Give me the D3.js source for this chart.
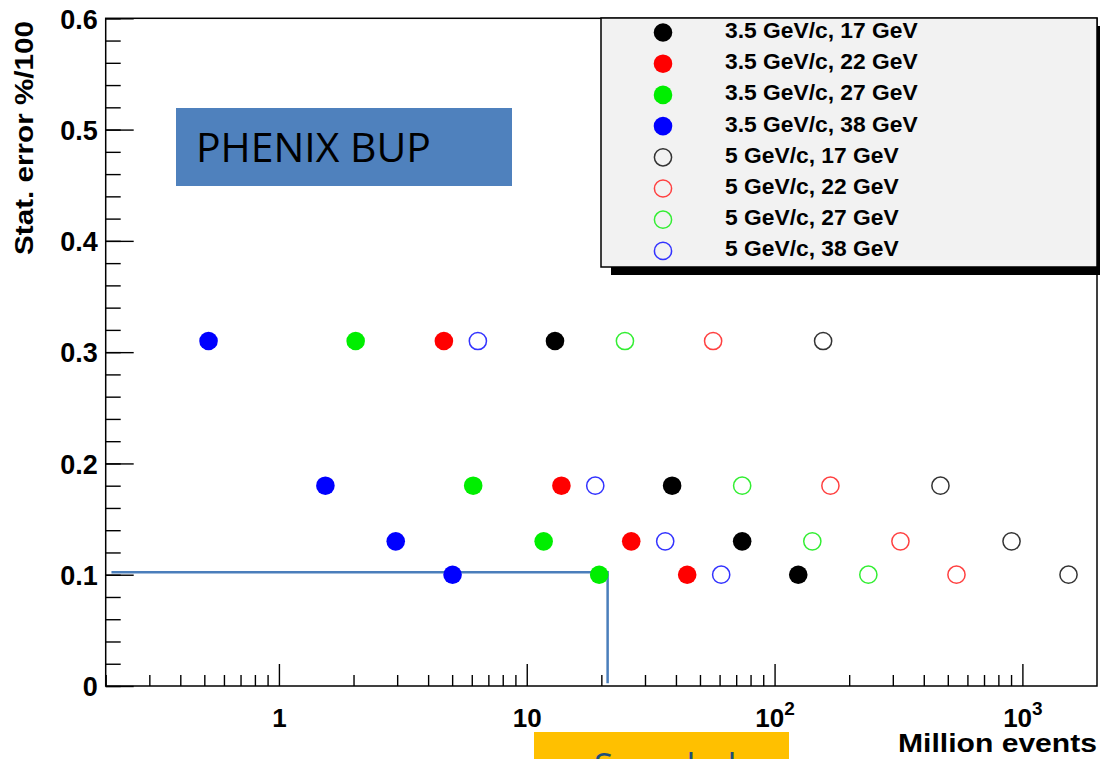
<!DOCTYPE html>
<html lang="en">
<head>
    <meta charset="UTF-8">
    <title>Stat. error vs million events</title>
    <script src="https://d3js.org/d3.v7.min.js"></script>
    <style>
        body { margin: 0; background: #fff; }
        svg { display: block; }
        .root text { font-family: "Liberation Sans", Arial, sans-serif; font-weight: bold; fill: #000; }
        .tick line { stroke: #000; stroke-width: 1.4px; }
        .domain { display: none; }
    </style>
</head>
<body>
    <svg width="1100" height="759"></svg>
    <script>
        // data
        const errLevels = [0.31, 0.18, 0.13, 0.10];
        const pt35_17 = [13.0, 38.6, 74, 124.6];
        const pt35_22 = [4.63, 13.8, 26.4, 44.4];
        const pt35_27 = [2.04, 6.08, 11.7, 19.6];
        const pt35_38 = [0.52, 1.54, 2.96, 5.02];
        const pt5_17 = [157, 467, 904, 1535];
        const pt5_22 = [56.5, 168, 322, 542];
        const pt5_27 = [24.9, 74, 142, 239];
        const pt5_38 = [6.35, 18.9, 36.2, 60.9];
        const seriesNames = [
            '3.5 GeV/c, 17 GeV', '3.5 GeV/c, 22 GeV', '3.5 GeV/c, 27 GeV', '3.5 GeV/c, 38 GeV',
            '5 GeV/c, 17 GeV', '5 GeV/c, 22 GeV', '5 GeV/c, 27 GeV', '5 GeV/c, 38 GeV'
        ];
        const seriesValues = [pt35_17, pt35_22, pt35_27, pt35_38, pt5_17, pt5_22, pt5_27, pt5_38];
        const seriesColors = ['#000000', '#ff0000', '#00ee00', '#0000ff', '#333333', '#ff4040', '#33ee33', '#3333ff'];
        const seriesOpen = [false, false, false, false, true, true, true, true];

        const xMajor = [1, 10, 100, 1000];
        const xMinor = [0.2, 0.3, 0.4, 0.5, 0.6, 0.7, 0.8, 0.9,
            2, 3, 4, 5, 6, 7, 8, 9, 20, 30, 40, 50, 60, 70, 80, 90,
            200, 300, 400, 500, 600, 700, 800, 900];
        const xLabels = [['1', ''], ['10', ''], ['10', '2'], ['10', '3']];
        const yMajor = [0, 0.1, 0.2, 0.3, 0.4, 0.5, 0.6];
        const yMinor = d3.range(0, 0.6001, 0.02);

        // blue guide line (x in million events, y in stat. error)
        const guideX = [0.211, 21.2, 21.2];
        const guideY = [0.1022, 0.1022, 0.0025];

        const padL = 105.7, padR = 1097, padT = 18.3, padB = 686;
        const svg = d3.select('svg').append('g').attr('class', 'root');

        const x = d3.scaleLog().domain([0.2, 2000]).range([padL, padR]);
        const y = d3.scaleLinear().domain([0, 0.6]).range([padB, padT]);

        // frame
        svg.append('rect')
            .attr('x', padL).attr('y', padT)
            .attr('width', padR - padL).attr('height', padB - padT)
            .attr('fill', 'none').attr('stroke', '#000').attr('stroke-width', 1.5);

        // y axis
        svg.append('g').attr('transform', `translate(${padL},0)`)
            .call(d3.axisLeft(y).tickValues(yMinor).tickSize(-15).tickFormat(''));
        const yAx = svg.append('g').attr('transform', `translate(${padL},0)`)
            .call(d3.axisLeft(y).tickValues(yMajor).tickSize(-28).tickPadding(8)
                .tickFormat(d => d === 0 ? '0' : d3.format('.1f')(d)));
        yAx.selectAll('text').attr('font-size', 27).attr('dy', '0.36em');

        // x axis
        svg.append('g').attr('transform', `translate(0,${padB})`)
            .call(d3.axisBottom(x).tickValues(xMinor).tickSize(-11).tickFormat(''));
        const xAx = svg.append('g').attr('transform', `translate(0,${padB})`)
            .call(d3.axisBottom(x).tickValues(xMajor).tickSize(-22).tickFormat(''));
        xAx.selectAll('.tick').each(function (d, i) {
            const t = d3.select(this).append('text')
                .attr('y', 41).attr('font-size', 26).attr('text-anchor', 'middle');
            t.append('tspan').text(xLabels[i][0]);
            if (xLabels[i][1]) {
                t.append('tspan').attr('font-size', 19).attr('dy', -12).text(xLabels[i][1]);
            }
        });

        // axis titles
        svg.append('text')
            .attr('transform', 'translate(33,21) rotate(-90)')
            .attr('text-anchor', 'end').attr('font-size', 26)
            .attr('textLength', 234).attr('lengthAdjust', 'spacingAndGlyphs')
            .text('Stat. error %/100');
        svg.append('text')
            .attr('x', padR).attr('y', 752)
            .attr('text-anchor', 'end').attr('font-size', 26)
            .attr('textLength', 199).attr('lengthAdjust', 'spacingAndGlyphs')
            .text('Million events');

        // blue guide line
        const guide = d3.line().x(d => x(d[0])).y(d => y(d[1]));
        svg.append('path')
            .attr('d', guide(guideX.map((v, i) => [v, guideY[i]])))
            .attr('fill', 'none').attr('stroke', '#4a7ebb').attr('stroke-width', 2.5);

        // points
        seriesValues.forEach((vals, s) => {
            svg.append('g').selectAll('circle')
                .data(vals)
                .join('circle')
                .attr('cx', d => x(d))
                .attr('cy', (d, i) => y(errLevels[i]))
                .attr('r', seriesOpen[s] ? 8.6 : 9.3)
                .attr('fill', seriesOpen[s] ? 'none' : seriesColors[s])
                .attr('stroke', seriesOpen[s] ? seriesColors[s] : 'none')
                .attr('stroke-width', 1.5);
        });

        // legend
        const lg = svg.append('g');
        lg.append('rect').attr('x', 611).attr('y', 26).attr('width', 496).attr('height', 249).attr('fill', '#000');
        lg.append('rect').attr('x', 601).attr('y', 18).attr('width', 496).attr('height', 249)
            .attr('fill', '#f2f2f2').attr('stroke', '#000').attr('stroke-width', 1.5);
        seriesNames.forEach((name, i) => {
            const cy = 32.5 + i * 31.2;
            lg.append('circle')
                .attr('cx', 663).attr('cy', cy)
                .attr('r', seriesOpen[i] ? 8.6 : 9.3)
                .attr('fill', seriesOpen[i] ? 'none' : seriesColors[i])
                .attr('stroke', seriesOpen[i] ? seriesColors[i] : 'none')
                .attr('stroke-width', 1.5);
            lg.append('text')
                .attr('x', 725).attr('y', cy + 5.5)
                .attr('font-size', 22.8).text(name);
        });

        // PHENIX BUP label
        const root = d3.select('svg');
        root.append('rect').attr('x', 176).attr('y', 108).attr('width', 336).attr('height', 78).attr('fill', '#4f81bd');
        root.append('text').attr('x', 196).attr('y', 161.5)
            .attr('font-family', '"Open Sans", sans-serif').attr('font-size', 41)
            .attr('textLength', 235).attr('lengthAdjust', 'spacingAndGlyphs')
            .attr('fill', '#000').text('PHENIX BUP');

        // orange box at the bottom (cut off)
        root.append('rect').attr('x', 534).attr('y', 732).attr('width', 255).attr('height', 40).attr('fill', '#ffc000');
        root.append('text').attr('x', 594).attr('y', 778)
            .attr('font-family', '"Open Sans", sans-serif').attr('font-size', 35)
            .attr('fill', '#1f4e79').text('Sampled');
    </script>
</body>
</html>
